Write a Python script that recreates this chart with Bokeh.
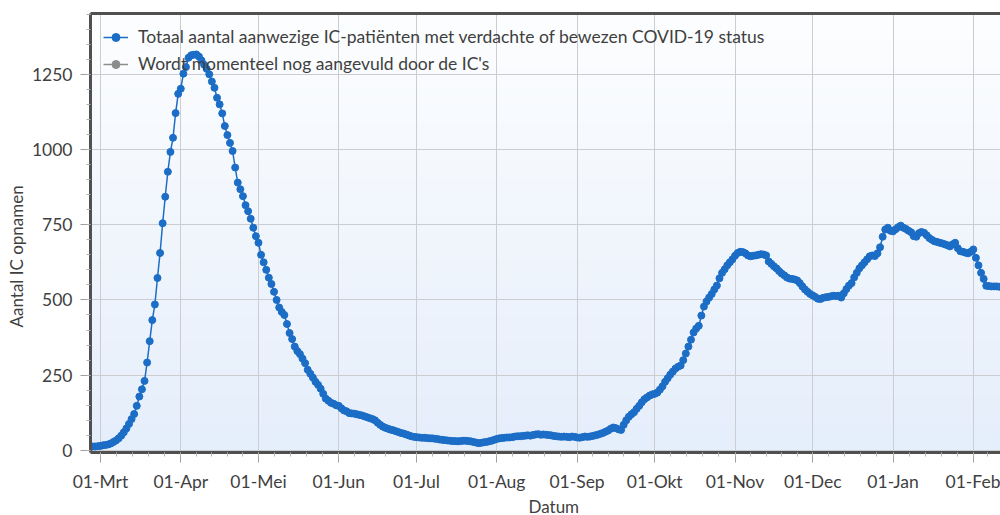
import numpy as np
import pandas as pd
from bokeh.plotting import figure
from bokeh.models import (FixedTicker, Range1d, Legend, LegendItem, ColumnDataSource,
                          LinearAxis, Title)
from bokeh.embed import file_html
from bokeh.resources import INLINE

# ---------------- data ----------------
origin_date = "2020-03-01"
start_date = "2020-02-27"

ic_values = [
    13, 13, 14, 15,
    17, 18, 20, 23, 28, 33, 40, 49, 60, 73,
    88, 104, 121, 148, 179, 203, 231, 292, 363, 433,
    485, 573, 656, 755, 843, 926, 992, 1039, 1121, 1185,
    1202, 1252, 1274, 1305, 1313, 1315, 1316, 1309, 1296, 1282,
    1268, 1250, 1226, 1205, 1172, 1150, 1120, 1078, 1048, 1022,
    995, 940, 890, 868, 845, 815, 795, 770, 740, 712,
    690, 650, 625, 600, 574, 553, 527, 500, 475, 460,
    450, 420, 390, 370, 345, 330, 320, 305, 290, 268,
    255, 242, 228, 218, 205, 188, 172, 165, 158, 155,
    150, 148, 140, 133, 130, 124, 123, 122, 120, 118,
    116, 113, 110, 107, 104, 100, 92, 85, 79, 75,
    72, 69, 67, 64, 61, 58, 56, 53, 50, 47,
    45, 44, 43, 42, 42, 41, 40, 40, 39, 38,
    36, 35, 34, 33, 32, 31, 31, 30, 31, 32,
    32, 31, 30, 28, 26, 24, 25, 27, 28, 30,
    32, 35, 38, 40, 41, 42, 43, 43, 44, 46,
    47, 47, 48, 49, 50, 49, 51, 53, 54, 52,
    53, 52, 51, 50, 48, 47, 46, 45, 46, 45,
    44, 46, 45, 43, 42, 44, 46, 45, 46, 48,
    50, 52, 55, 58, 62, 66, 72, 76, 74, 70,
    68, 85, 100, 112, 120, 127, 138, 148, 160, 170,
    176, 182, 186, 188, 192, 202, 213, 228, 240, 252,
    262, 272, 278, 282, 300, 322, 345, 368, 392, 405,
    414, 448, 478, 495, 508, 520, 535, 548, 572, 590,
    602, 615, 625, 635, 647, 656, 660, 659, 655, 648,
    645, 647, 648, 650, 652, 651, 648, 628, 620, 612,
    605, 596, 588, 582, 575, 571, 570, 568, 565, 556,
    545, 535, 527, 520, 515, 510, 504, 503, 507, 509,
    510, 512, 514, 513, 514, 508, 522, 536, 548, 556,
    575, 590, 605, 615, 625, 635, 645, 648, 646, 655,
    675, 710, 734, 740, 730, 728, 735, 742, 747, 740,
    736, 730, 725, 712, 710, 722, 726, 723, 715, 706,
    700, 695, 693, 690, 688, 685, 682, 678, 685, 690,
    672, 662, 660, 657, 655, 660, 668, 640, 615, 590,
    570, 547, 546, 545, 545, 545, 544,
]

# days still being completed by the ICs lie beyond the visible window (values unknown)
pending_dates = ["2021-02-16"]
pending_values = [float("nan")]

month_starts = ["2020-03-01", "2020-04-01", "2020-05-01", "2020-06-01", "2020-07-01",
                "2020-08-01", "2020-09-01", "2020-10-01", "2020-11-01", "2020-12-01",
                "2021-01-01", "2021-02-01"]
month_labels = ["01-Mrt", "01-Apr", "01-Mei", "01-Jun", "01-Jul", "01-Aug",
                "01-Sep", "01-Okt", "01-Nov", "01-Dec", "01-Jan", "01-Feb"]
y_ticks = [0, 250, 500, 750, 1000, 1250]

legend_labels = ["Totaal aantal aanwezige IC-patiënten met verdachte of bewezen COVID-19 status",
                 "Wordt momenteel nog aangevuld door de IC's"]
x_title = "Datum"
y_title = "Aantal IC opnamen"

# ---------------- derived ----------------
origin = pd.Timestamp(origin_date)
dates = pd.date_range(start_date, periods=len(ic_values), freq="D")
x_days = [(d - origin).days for d in dates]
src = ColumnDataSource(dict(x=x_days, y=ic_values))
pend_x = [(pd.Timestamp(d) - origin).days for d in pending_dates]
src_pending = ColumnDataSource(dict(x=pend_x, y=pending_values))

major_x = [(pd.Timestamp(m) - origin).days for m in month_starts]
edges = [(pd.Timestamp("2020-02-01") - origin).days] + major_x + [(pd.Timestamp("2021-03-01") - origin).days]
minor_x = []
for a, b in zip(edges[:-1], edges[1:]):
    for k in range(5):
        minor_x.append(a + (b - a) * k / 5.0)

BLUE = "#1b6dc6"
GREY = "#8c8c8c"
TXT = "#3f3f3f"
FONT = "Lato"
FRAME = "#505050"

xr = Range1d(-3.86, 347.5)
yr = Range1d(-7, 1452)

p = figure(width=1000, height=515, output_backend="svg", toolbar_location=None,
           x_range=xr, y_range=yr,
           min_border_left=90, min_border_top=13, min_border_bottom=60, min_border_right=0)

p.border_fill_color = "white"
p.background_fill_color = "#f3f7fd"
p.outline_line_color = None

# vertical background gradient (white at the top, light blue at the bottom)
n = 128
t = np.linspace(0.0, 1.0, n)[:, None]          # 0 = bottom row, 1 = top row
bottom_rgb = np.array([229, 238, 251])
top_rgb = np.array([253, 254, 255])
rgb = (bottom_rgb + (top_rgb - bottom_rgb) * t).astype(np.uint32)
grad = (255 << 24) | (rgb[:, 2:3] << 16) | (rgb[:, 1:2] << 8) | rgb[:, 0:1]
p.image_rgba(image=[grad.astype(np.uint32)], x=xr.start, y=yr.start,
             dw=xr.end - xr.start, dh=yr.end - yr.start, level="image")

# glyphs
r_line = p.line("x", "y", source=src, line_color=BLUE, line_width=1.5)
r_dots = p.scatter("x", "y", source=src, size=7, fill_color=BLUE, line_color=BLUE)
g_line = p.line("x", "y", source=src_pending, line_color=GREY, line_width=1.5)
g_dots = p.scatter("x", "y", source=src_pending, size=7, fill_color=GREY, line_color=GREY)

# axes
p.xaxis.ticker = FixedTicker(ticks=major_x, minor_ticks=minor_x)
p.xaxis.major_label_overrides = {int(t_): lab for t_, lab in zip(major_x, month_labels)}
p.yaxis.ticker = FixedTicker(ticks=y_ticks, minor_ticks=list(range(0, 1451, 50)))

for ax in (p.xaxis, p.yaxis):
    ax.axis_line_color = FRAME
    ax.axis_line_width = 3
    ax.major_tick_line_color = "#a0a0a0"
    ax.minor_tick_line_color = "#b0b0b0"
    ax.major_tick_in = 0
    ax.minor_tick_in = 0
    ax.major_tick_out = 10
    ax.minor_tick_out = 4
    ax.major_label_text_font = FONT
    ax.major_label_text_font_size = "17.5px"
    ax.major_label_text_color = TXT
p.xaxis.major_label_standoff = 8
p.yaxis.major_label_standoff = 8

# axis titles as side-panel titles
p.add_layout(Title(text=y_title, align="left", offset=125, standoff=4,
                   text_font=FONT, text_font_size="17px", text_font_style="normal",
                   text_color=TXT), "left")
p.add_layout(Title(text=x_title, align="left", offset=438, standoff=-2,
                   text_font=FONT, text_font_size="17px", text_font_style="normal",
                   text_color=TXT), "below")

# top border line
top = LinearAxis(ticker=FixedTicker(ticks=[]), major_label_text_font_size="0px",
                 axis_line_color=FRAME, axis_line_width=3,
                 major_tick_line_color=None, minor_tick_line_color=None)
p.add_layout(top, "above")

p.xgrid.ticker = FixedTicker(ticks=major_x)
p.ygrid.ticker = FixedTicker(ticks=y_ticks)
p.grid.grid_line_color = "#cbcdd1"
p.grid.grid_line_width = 1

legend = Legend(items=[LegendItem(label=legend_labels[0], renderers=[r_line, r_dots]),
                       LegendItem(label=legend_labels[1], renderers=[g_line, g_dots])],
                location="top_left")
legend.background_fill_alpha = 0
legend.border_line_color = None
legend.margin = 13
legend.padding = 3
legend.spacing = 6
legend.glyph_width = 25
legend.glyph_height = 20
legend.label_height = 20
legend.label_standoff = 10
legend.label_text_font = FONT
legend.label_text_font_size = "17.5px"
legend.label_text_color = TXT
p.add_layout(legend)

open("out.html", "w").write(file_html(p, INLINE))
